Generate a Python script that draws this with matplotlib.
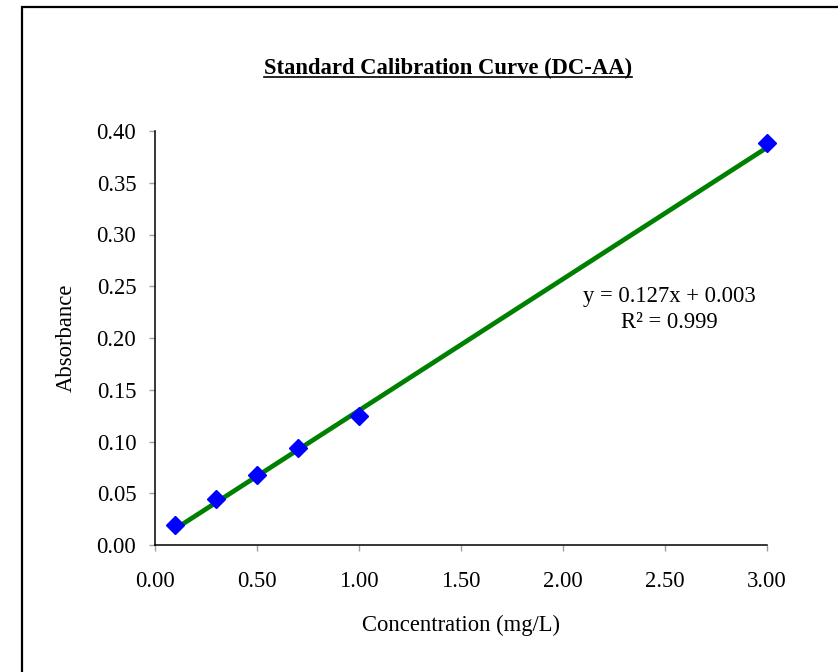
import numpy as np
import matplotlib
matplotlib.use("Agg")
import matplotlib.pyplot as plt
from matplotlib.patches import Rectangle
from matplotlib.lines import Line2D

# calibration standards
conc = [0.1, 0.3, 0.5, 0.7, 1.0, 3.0]
absorb = [0.019, 0.044, 0.068, 0.094, 0.125, 0.388]
x_ticks = [0.0, 0.5, 1.0, 1.5, 2.0, 2.5, 3.0]
y_ticks = [0.0, 0.05, 0.10, 0.15, 0.20, 0.25, 0.30, 0.35, 0.40]

# displayed trendline
slope = 0.127
intercept = 0.003
r2 = 0.999

plt.rcParams['font.family'] = ['Liberation Serif', 'DejaVu Serif']
fs = 16.3

fig = plt.figure(figsize=(8.38, 6.72), dpi=100)
ax = fig.add_axes([155/838, 127/672, 612/838, 414/672])

# outer chart border
fig.patches.append(Rectangle((22/838, -0.1), 1.2, (665+67)/672, transform=fig.transFigure,
                             fill=False, edgecolor='black', linewidth=1.6, clip_on=False))

xl = np.array([conc[0], conc[-1]])
ax.plot(xl, slope*xl + intercept, color='#008000', linewidth=3.4, zorder=2, clip_on=False)
ax.plot(conc, absorb, linestyle='none', marker='D', markersize=9, color='#0000ff',
        zorder=3, clip_on=False)

ax.set_xlim(0, 3.0)
ax.set_ylim(0, 0.40)
ax.set_xticks(x_ticks)
ax.set_yticks(y_ticks)
ax.set_xticklabels([f'{v:.2f}' for v in x_ticks])
ax.set_yticklabels([f'{v:.2f}' for v in y_ticks])
ax.tick_params(direction='out', length=4.5, width=1, color='#a0a0a0', labelsize=fs)
ax.tick_params(axis='y', pad=9)
ax.tick_params(axis='x', pad=14)
for s in ['top', 'right']:
    ax.spines[s].set_visible(False)
for s in ['left', 'bottom']:
    ax.spines[s].set_linewidth(1.1)

ax.set_xlabel('Concentration (mg/L)', fontsize=fs, labelpad=17)
ax.set_ylabel('Absorbance', fontsize=fs, labelpad=14)

ax.text(2.52, 0.2275, f'y = {slope:.3f}x + {intercept:.3f}\nR² = {r2:.3f}',
        ha='center', va='center', fontsize=fs, linespacing=1.3)

title = fig.text(448/838, 1 - 68/672, 'Standard Calibration Curve (DC-AA)',
                 ha='center', va='center', fontsize=fs, fontweight='bold')
fig.canvas.draw()
bb = title.get_window_extent().transformed(fig.transFigure.inverted())
fig.lines.append(Line2D([bb.x0, bb.x1], [bb.y0 + 0.003, bb.y0 + 0.003], transform=fig.transFigure,
                        color='black', linewidth=1.2))

fig.savefig('out.png', dpi=100)
